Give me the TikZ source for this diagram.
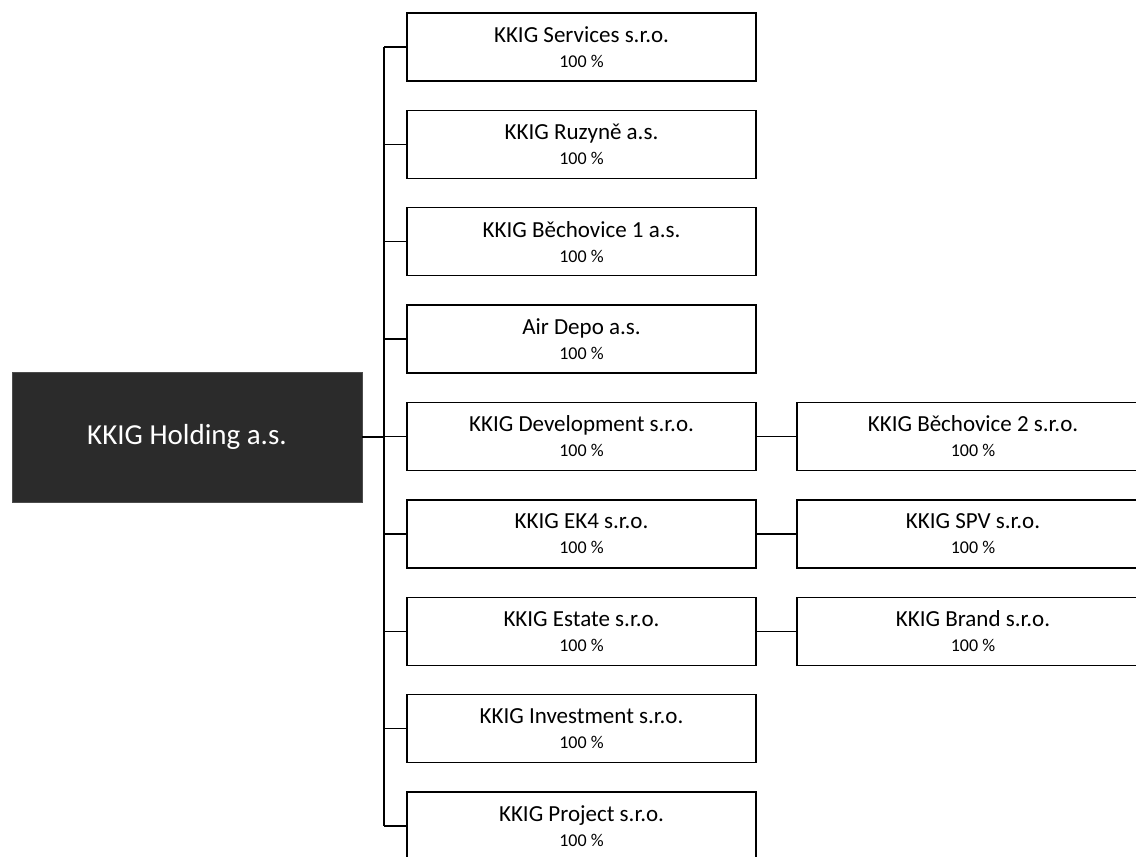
\documentclass[tikz,border=0pt]{standalone}
\usepackage{fontspec}
\setmainfont{Carlito}
\begin{document}
\begin{tikzpicture}[x=1pt,y=-1pt,
        holdbox/.style={fill=black!83, draw=black!70, line width=0.8pt, minimum width=350pt, minimum height=130pt, inner sep=0pt, text=white, font=\fontsize{29}{32}\selectfont},
        subbox/.style={draw, line width=1.4pt, minimum width=349pt, minimum height=68pt, inner sep=0pt, align=center, font=\fontsize{23}{25}\selectfont},
        link/.style={line width=1.3pt}]
    \clip (0,0) rectangle (1136,857);
    \node[holdbox] (h) at (187,437) {KKIG Holding a.s.};
    \coordinate (trunk) at (384,0);
    \foreach \i/\nm in {1/KKIG Services s.r.o.,2/KKIG Ruzyně a.s.,3/KKIG Běchovice 1 a.s.,4/Air Depo a.s.,5/KKIG Development s.r.o.,6/KKIG EK4 s.r.o.,7/KKIG Estate s.r.o.,8/KKIG Investment s.r.o.,9/KKIG Project s.r.o.}
        {
            \node[subbox] (s\i) at (581.5,{47+97.375*(\i-1)}) {\nm\\{\fontsize{18}{21}\selectfont 100 \%}};
            \draw[link] (s\i.west -| trunk) -- (s\i.west);
        }
    \draw[link] (s1.west -| trunk) -- (s9.west -| trunk);
    \draw[link] (h.east) -- (h.east -| trunk);
    % second level
    \foreach \i/\nm in {5/KKIG Běchovice 2 s.r.o.,6/KKIG SPV s.r.o.,7/KKIG Brand s.r.o.}
        {
            \node[subbox, minimum width=352pt] (r\i) at (973,{47+97.375*(\i-1)}) {\nm\\{\fontsize{18}{21}\selectfont 100 \%}};
            \draw[link] (s\i.east) -- (r\i.west);
        }
\end{tikzpicture}
\end{document}
